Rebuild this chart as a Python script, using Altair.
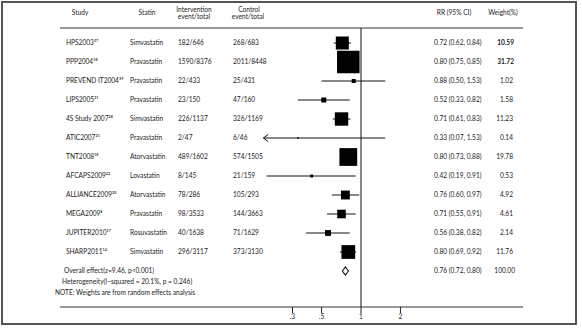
import math
import altair as alt
import pandas as pd

# ---------------- data ----------------
studies = ["HPS2003³⁷", "PPP2004³⁸", "PREVEND IT2004³⁹", "LIPS2005³¹", "4S Study 2007²⁸",
           "ATIC2007²¹", "TNT2008¹⁸", "AFCAPS2009²²", "ALLIANCE2009²⁰", "MEGA2009⁸",
           "JUPITER2010¹⁷", "SHARP2011¹⁴"]
statins = ["Simvastatin", "Pravastatin", "Pravastatin", "Pravastatin", "Simvastatin",
           "Pravastatin", "Atorvastatin", "Lovastatin", "Atorvastatin", "Pravastatin",
           "Rosuvastatin", "Simvastatin"]
intervention = ["182/646", "1590/8376", "22/433", "23/150", "226/1137", "2/47", "489/1602",
                "8/145", "78/286", "98/3533", "40/1638", "296/3117"]
control = ["268/683", "2011/8448", "25/431", "47/160", "326/1169", "6/46", "574/1505",
           "21/159", "105/293", "144/3663", "71/1629", "373/3130"]
rr = [0.72, 0.80, 0.88, 0.52, 0.71, 0.33, 0.80, 0.42, 0.76, 0.71, 0.56, 0.80]
rr_lo = [0.62, 0.75, 0.50, 0.33, 0.61, 0.07, 0.73, 0.19, 0.60, 0.55, 0.38, 0.69]
rr_hi = [0.84, 0.85, 1.53, 0.82, 0.83, 1.53, 0.88, 0.91, 0.97, 0.91, 0.82, 0.92]
weights = [10.59, 31.72, 1.02, 1.58, 11.23, 0.14, 19.78, 0.53, 4.92, 4.61, 2.14, 11.76]
bold_weights = ["10.59", "31.72"]

overall_rr, overall_lo, overall_hi, overall_w = 0.76, 0.72, 0.80, "100.00"
overall_text = "Overall  effect(z=9.46, p<0.001)"
het_text = "Heterogeneity(I−squared = 20.1%, p = 0.246)"
note_text = "NOTE: Weights are from random effects analysis"

tick_values = [0.3, 0.5, 1, 2]
tick_labels = [".3", ".5", "1", "2"]
plot_min = 0.18  # lower limit of the drawn CI range

# ---------------- tables ----------------
n = len(studies)
df = pd.DataFrame({
    "row": list(range(1, n + 1)),
    "study": studies, "statin": statins, "interv": intervention, "control": control,
    "rr": rr, "lo": rr_lo, "hi": rr_hi, "weight": weights,
})
df["lo_draw"] = df["lo"].clip(lower=plot_min)
df["rrtxt"] = [f"{a:.2f} ({b:.2f}, {c:.2f})" for a, b, c in zip(rr, rr_lo, rr_hi)]
df["wtxt"] = [f"{w:.2f}" for w in weights]
df["bold"] = df["wtxt"].isin(bold_weights)

ov = pd.DataFrame({"row": [n + 1], "rr": [overall_rr], "lo": [overall_lo], "hi": [overall_hi],
                   "rrtxt": [f"{overall_rr:.2f} ({overall_lo:.2f}, {overall_hi:.2f})"],
                   "wtxt": [overall_w], "study": [overall_text]})
foot = pd.DataFrame({"row": [n + 1.58, n + 2.16], "txt": [het_text, note_text]})
ticks = pd.DataFrame({"v": tick_values, "lab": tick_labels})

# ---------------- scales ----------------
W, H = 582, 329
PX_PER_LN = 56.9
X_ONE = 361
xscale = alt.Scale(type="log", domain=[math.exp(-X_ONE / PX_PER_LN), math.exp((W - X_ONE) / PX_PER_LN)],
                   nice=False, zero=False)
ROW0, ROWH = 24, 19
yscale = alt.Scale(domain=[-ROW0 / ROWH, (H - ROW0) / ROWH], reverse=True, nice=False, zero=False)

FONT = "Lato"
FS = 6.6
COL = "#222222"

base = alt.Chart(df)
Y = alt.Y("row:Q", scale=yscale, axis=None)


def XQ(field):
    return alt.X(f"{field}:Q", scale=xscale, axis=None, title=None)


# vertical null line at RR = 1
null_line = alt.Chart(pd.DataFrame({"v": [1]})).mark_rule(color="#111", strokeWidth=1).encode(
    x=XQ("v"), y=alt.value(28), y2=alt.value(307))

# axis ticks and labels drawn on the x scale
tick_marks = alt.Chart(ticks).mark_rule(color="#222", strokeWidth=1).encode(
    x=XQ("v"), y=alt.value(307), y2=alt.value(313))
tick_text = alt.Chart(ticks).mark_text(baseline="top", font=FONT, fontSize=FS, color=COL).encode(
    x=XQ("v"), y=alt.value(314), text="lab:N")

ci = base.mark_rule(color="#111", strokeWidth=1).encode(x=XQ("lo_draw"), x2="hi:Q", y=Y)

arrow = base.transform_filter(f"datum.lo < {plot_min}").mark_point(
    shape="M2,-1.5L0,0L2,1.5", size=23, filled=False, stroke="#111", strokeWidth=1, opacity=1
).encode(x=XQ("lo_draw"), y=Y)

squares = base.mark_square(color="#000", opacity=1).encode(
    x=XQ("rr"), y=Y,
    size=alt.Size("weight:Q", scale=alt.Scale(domain=[0, max(weights)], range=[0, max(weights) * 16]),
                  legend=None))

diamond = alt.Chart(ov).mark_point(
    shape="M-1,0L0,-1.35L1,0L0,1.35Z", size=36, filled=True, fill="white", stroke="#111",
    strokeWidth=1.1, opacity=1
).encode(x=XQ("rr"), y=Y)


def col_text(data, field, xpx, align="left", weight="normal"):
    return alt.Chart(data).mark_text(align=align, baseline="middle", font=FONT, fontSize=FS,
                                     color=COL, fontWeight=weight).encode(
        x=alt.value(xpx), y=Y, text=f"{field}:N")


texts = [
    col_text(df, "study", 66), col_text(df, "statin", 130), col_text(df, "interv", 178),
    col_text(df, "control", 233), col_text(df, "rrtxt", 434),
    col_text(df[~df["bold"]], "wtxt", 513, align="right"),
    col_text(df[df["bold"]], "wtxt", 514, align="right", weight="bold"),
    col_text(ov, "study", 64), col_text(ov, "rrtxt", 434), col_text(ov, "wtxt", 515, align="right"),
    col_text(foot.iloc[[0]], "txt", 62),
    col_text(foot.iloc[[1]], "txt", 55),
]


def header(txt, xpx, ypx):
    return alt.Chart(pd.DataFrame({"t": [txt]})).mark_text(
        align="center", baseline="middle", font=FONT, fontSize=FS, color=COL).encode(
        x=alt.value(xpx), y=alt.value(ypx), text="t:N")


headers = [
    header("Study", 80, 13), header("Statin", 147, 13),
    header("Intervention", 194, 9.5), header("event/total", 194, 17),
    header("Control", 249, 9.5), header("event/total", 248, 17),
    header("RR (95% CI)", 454, 13), header("Weight(%)", 503, 13),
]

rule_top = alt.Chart(pd.DataFrame({"a": [0]})).mark_rule(color="#333", strokeWidth=1).encode(
    x=alt.value(60), x2=alt.value(523), y=alt.value(28))
rule_bot = alt.Chart(pd.DataFrame({"a": [0]})).mark_rule(color="#333", strokeWidth=1).encode(
    x=alt.value(60), x2=alt.value(523), y=alt.value(307))

frame = alt.Chart(pd.DataFrame({"a": [0]})).mark_rect(
    fill=None, fillOpacity=0, stroke="#555", strokeWidth=2).encode(
    x=alt.value(2), x2=alt.value(576), y=alt.value(2), y2=alt.value(324))

chart = alt.layer(
    frame, rule_top, rule_bot, null_line, tick_marks, tick_text, ci, arrow, squares, diamond,
    *texts, *headers
).properties(
    width=W, height=H, autosize=alt.AutoSizeParams(type="none"), padding=0,
    background="white"
).configure_view(stroke=None)

chart.save("out.html", embed_options={"renderer": "svg", "actions": False})
